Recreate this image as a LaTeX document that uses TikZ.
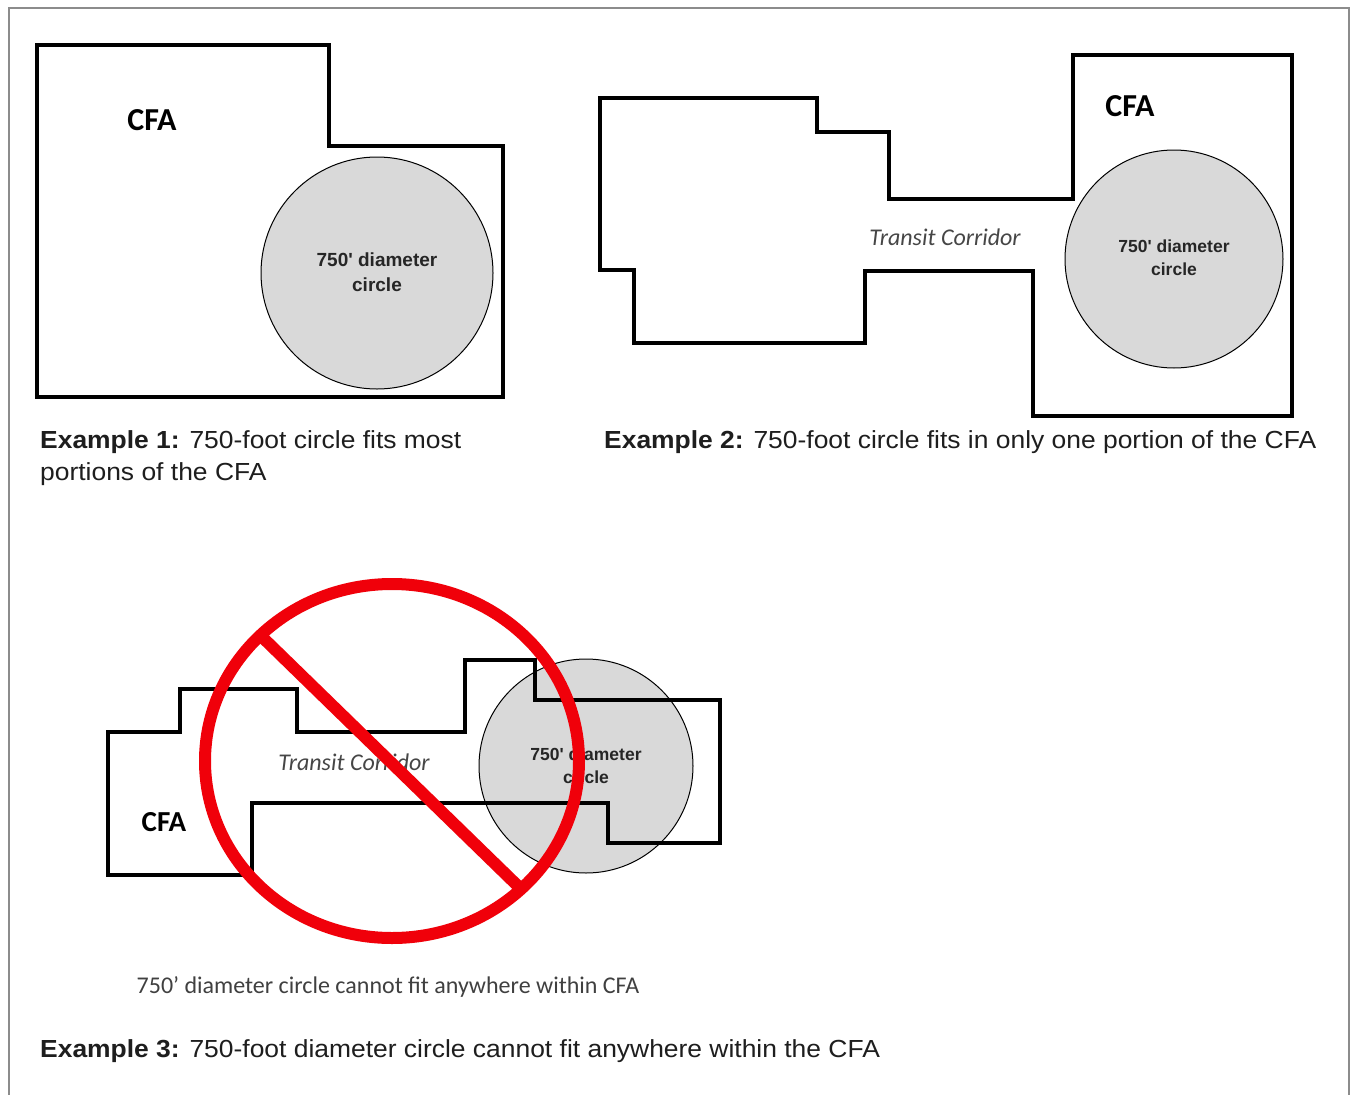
\documentclass[tikz,border=0pt]{standalone}
\usepackage{fontspec}
\setmainfont{Liberation Sans}
\newfontfamily\capfont[FakeStretch=1.07]{Liberation Sans}
\newfontfamily\carlito{Carlito}
\definecolor{cgray}{RGB}{217,217,217}
\definecolor{nored}{RGB}{240,0,10}
\definecolor{frameg}{RGB}{140,140,140}
\definecolor{txtg}{RGB}{30,30,30}
\definecolor{corrg}{RGB}{70,70,70}
\begin{document}
\begin{tikzpicture}[x=1pt,y=-1pt,
  area/.style={draw=black, line width=4pt, line join=miter},
  bigcircle/.style={draw=black, line width=1pt, fill=cgray},
  cfalabel/.style={font=\carlito\bfseries\fontsize{32}{36}\selectfont, text=black},
  circlabel/.style={font=\bfseries\fontsize{19}{25}\selectfont, align=center, text=black!85},
  smallcirclabel/.style={font=\bfseries\fontsize{17.5}{23}\selectfont, align=center, text=black!85},
  corridor/.style={font=\carlito\itshape\fontsize{24}{28}\selectfont, text=corrg},
  caption/.style={font=\capfont\fontsize{24.7}{32}\selectfont, text=txtg, align=left, anchor=west, inner sep=0pt},
  redmark/.style={draw=nored, line width=12pt}]
\useasboundingbox (0,0) rectangle (1353,1095);
\fill[white] (0,0) rectangle (1353,1095);
\draw[frameg, line width=2pt] (9,1100) -- (9,8) -- (1349,8) -- (1349,1100);

% Example 1
\draw[area] (37,45) -- (329,45) -- (329,146) -- (503,146) -- (503,397) -- (37,397) -- cycle;
\draw[bigcircle] (377,273) circle (116);
\node[cfalabel] (cfa1) at (152,120) {CFA};
\node[circlabel] (c1) at (377,272) {750\textquotesingle{} diameter\\circle};
\node[caption] (cap1) at (40,458) {\textbf{Example 1:} 750-foot circle fits most\\portions of the CFA};

% Example 2
\draw[area] (600,98) -- (817,98) -- (817,132) -- (889,132) -- (889,199) -- (1073,199) -- (1073,55) -- (1292,55) -- (1292,416) -- (1033,416) -- (1033,271) -- (865,271) -- (865,343) -- (634,343) -- (634,270) -- (600,270) -- cycle;
\draw[bigcircle] (1174,259) circle (109);
\node[cfalabel] (cfa2) at (1130,106) {CFA};
\node[smallcirclabel] (c2) at (1174,258) {750\textquotesingle{} diameter\\circle};
\node[corridor] (tc2) at (945,237) {Transit Corridor};
\node[caption] (cap2) at (604,442) {\textbf{Example 2:} 750-foot circle fits in only one portion of the CFA};

% Example 3
\draw[bigcircle] (586,766) circle (107);
\draw[area] (108,732) -- (180,732) -- (180,689) -- (297,689) -- (297,732) -- (465,732) -- (465,660) -- (535,660) -- (535,700) -- (720,700) -- (720,843) -- (608,843) -- (608,803) -- (252,803) -- (252,875) -- (108,875) -- cycle;
\node[cfalabel, font=\carlito\bfseries\fontsize{29}{32}\selectfont] (cfa3) at (164,822) {CFA};
\node[smallcirclabel] (c3) at (586,766) {750\textquotesingle{} diameter\\circle};
\node[corridor] (tc3) at (354,762) {Transit Corridor};
\coordinate (s1) at (258,633);
\coordinate (s2) at (521,889);
\draw[redmark] (s1) -- (s2);
\draw[redmark] (392,761) ellipse (187 and 177);
\node[font=\carlito\fontsize{24}{28}\selectfont, text=txtg!85] (note3) at (388,987) {750’ diameter circle cannot fit anywhere within CFA};
\node[caption] (cap3) at (40,1051) {\textbf{Example 3:} 750-foot diameter circle cannot fit anywhere within the CFA};
\end{tikzpicture}
\end{document}
